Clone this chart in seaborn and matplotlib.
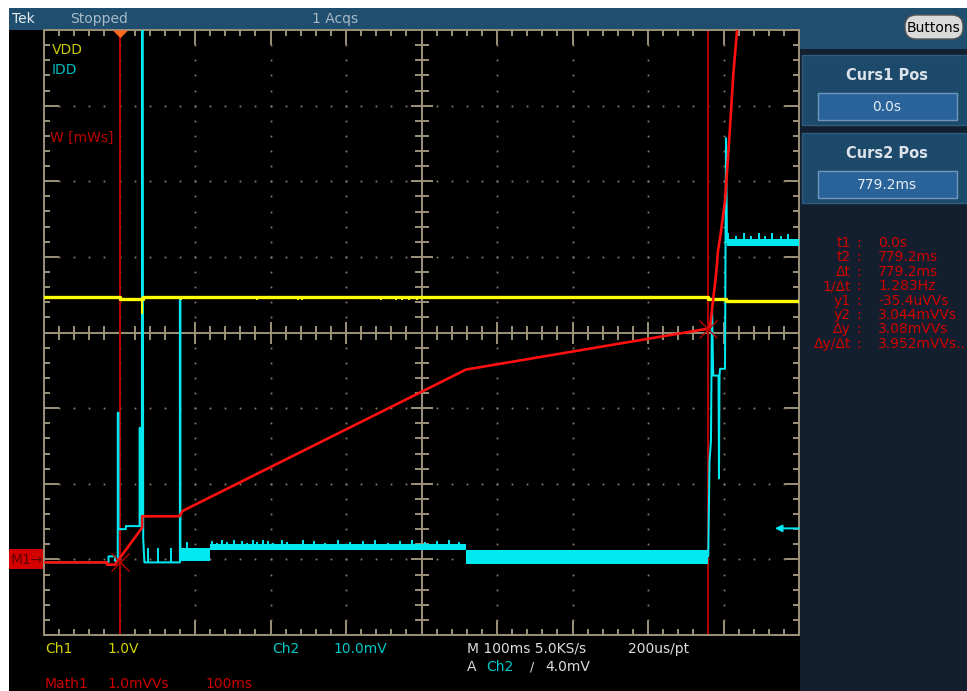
"""
Scope capture: VDD / IDD / energy (Math1) with two time cursors
"""

import numpy as np
import matplotlib
matplotlib.use("Agg")
import matplotlib.pyplot as plt
import matplotlib.transforms as mtransforms
from matplotlib.patches import Rectangle, FancyBboxPatch
from matplotlib.ticker import MultipleLocator
import seaborn as sns

# === Traces: time in ms (cursor 1 = 0), level in screen divisions ===
# Ch1 VDD (yellow)
vdd_t = [-100, 0, 0, 30.5, 30.5, 779.5, 779.5, 803.5, 803.5, 900]
vdd_y = [0.473, 0.473, 0.446, 0.446, 0.473, 0.473, 0.446, 0.446, 0.41, 0.41]
vdd_notch_t = [30.0, 80.8, 181.8, 237.0, 241.8, 347.0, 366.0, 374.8, 383.5, 394.0]
vdd_notch_y = [0.24, 0.43, 0.43, 0.43, 0.43, 0.43, 0.43, 0.43, 0.43, 0.43]

# Ch2 IDD (cyan) - start-up part
idd_t = [-100, -14.6, -14.6, -6.0, -6.0, -2.3, -2.3, -1.4, -1.4, 8.4, 8.4, 26.6,
         26.9, 27.2, 29.6, 30.0, 30.6, 31.4, 33.0, 80.0, 80.0, 80.7, 80.7]
idd_y = [-3.04, -3.04, -2.96, -2.96, -3.02, -3.02, -1.06, -1.06, -2.60, -2.60, -2.56, -2.56,
         -1.26, -2.56, -2.56, 4.3, 4.3, -2.72, -3.04, -3.04, 0.44, 0.44, -3.02]
# IDD around cursor 2
idd2_t = [779.8, 781.5, 783.4, 784.8, 786.1, 786.5, 793.4, 794.0, 794.7, 795.4, 802.0, 803.3, 804.6]
idd2_y = [-2.96, -1.70, -1.43, 0.35, -0.45, -0.57, -0.57, -1.93, -0.57, -0.48, -0.48, 2.57, 1.20]
# noisy stretches (envelopes)
band_t0 = [80.7, 119.9, 459.0, 804.6]
band_t1 = [119.9, 459.0, 779.8, 900.0]
band_lo = [-3.02, -2.88, -3.06, 1.15]
band_hi = [-2.85, -2.80, -2.87, 1.24]
# small glitches
spike_t = [37.7, 51.0, 68.0, 89.0,
           122, 128.7, 135.3, 142, 152, 161.8, 168.5, 177.2, 181.7, 190.5, 197, 202.9,
           214.8, 221.5, 243.4, 258, 272, 290, 305, 322, 338, 356, 371, 388, 404, 421, 436, 450,
           806, 815.9, 826.5, 835.8, 846.4, 855.6, 864.9, 875.5, 886]
spike_base = [-3.04, -3.04, -3.04, -2.85] + [-2.80] * 28 + [1.24] * 9
spike_top = [-2.85, -2.85, -2.85, -2.77,
             -2.76, -2.78, -2.75, -2.77, -2.74, -2.76, -2.78, -2.75, -2.77, -2.74, -2.76, -2.78,
             -2.75, -2.77, -2.74, -2.76, -2.78, -2.75, -2.77, -2.76, -2.74, -2.78, -2.76, -2.75,
             -2.77, -2.76, -2.74, -2.77,
             1.31, 1.28, 1.31, 1.28, 1.31, 1.28, 1.31, 1.28, 1.30]

# Math1 W [mWs] (red)
w_t = [-100, -16.5, -16.5, -6.0, 30.0, 30.0, 79.5, 83.5, 459.0, 779.0, 782.1, 786.1,
       788.7, 791.0, 792.7, 796.3, 802.0, 808.6, 813.0, 817.5, 822.0]
w_y = [-3.04, -3.04, -3.07, -3.07, -2.58, -2.43, -2.43, -2.36, -0.49, 0.05, 0.06, 0.42,
       0.64, 0.86, 1.08, 1.31, 1.74, 2.71, 3.42, 3.94, 4.5]

cursor_t = [0.0, 779.2]
cursor_y = [-3.04, 0.05]
trig_level = -2.59

# === Readouts ===
read_labels = ["t1", "t2", "Δt", "1/Δt", "y1", "y2", "Δy", "Δy/Δt"]
read_values = ["0.0s", "779.2ms", "779.2ms", "1.283Hz", "-35.4uVVs", "3.044mVVs", "3.08mVVs", "3.952mVVs.."]
curs_titles = ["Curs1 Pos", "Curs2 Pos"]
curs_values = ["0.0s", "779.2ms"]

# === Colors ===
GRAT = "#9d917a"
DOT = "#857b68"
YEL = "#ffff00"
CYN = "#00e8f0"
RED = "#ff1010"
CUR = "#b80000"
BAR = "#1f4e6e"
NAVY = "#131e2e"

sns.set_style("dark", {"axes.facecolor": "black", "figure.facecolor": "black"})
plt.rcParams["font.family"] = ["DejaVu Sans"]

W, H = 967, 691
fig = plt.figure(figsize=(W / 100, H / 100), dpi=100)
fig.patch.set_facecolor("black")
# pixel coords, origin top-left
PX = mtransforms.Affine2D().scale(0.01, -0.01).translate(0, H / 100) + fig.dpi_scale_trans


def rect(x, y, w, h, fc, ec="none", lw=0, z=-5):
    fig.add_artist(Rectangle((x, y), w, h, transform=PX, facecolor=fc, edgecolor=ec, lw=lw, zorder=z))


def ptext(x, y, s, color, size=10, **kw):
    fig.text(x, y, s, transform=PX, color=color, fontsize=size, va="center", **kw)


# === Frame / panels ===
rect(0, 0, W, 7.5, "white")
rect(0, 0, 9, H, "white")
rect(9, 7.5, W - 9, 22.5, BAR)
rect(800, 30, 167, H - 30, NAVY)
rect(800, 7.5, 167, 41, BAR)
ptext(12, 19, "Tek", "#e8eef2")
ptext(70, 19, "Stopped", "#a9b9c6")
ptext(312, 19, "1 Acqs", "#a9b9c6")
fig.add_artist(FancyBboxPatch((905, 15), 58, 24, boxstyle="round,pad=0,rounding_size=11",
                              transform=PX, facecolor="#dadada", edgecolor="#555555", lw=1, zorder=-4))
ptext(934, 27.5, "Buttons", "black", 10, ha="center")

for i, (ttl, val) in enumerate(zip(curs_titles, curs_values)):
    y0 = 55 + i * 78
    rect(802, y0, 165, 70, "#1d4a6b", ec="#2d5c80", lw=1, z=-4)
    ptext(887, y0 + 21, ttl, "#dde3ea", 10.5, ha="center", fontweight="bold")
    rect(818, y0 + 38, 139, 27, "#2a629a", ec="#6f97bd", lw=1, z=-3)
    ptext(887, y0 + 52, val, "#e6eef5", 10, ha="center")

for i, (lab, val) in enumerate(zip(read_labels, read_values)):
    yy = 243 + i * 14.4
    ptext(851, yy, lab, "#d00000", 10, ha="right")
    ptext(856, yy, ":", "#d00000", 10)
    ptext(878, yy, val, "#d00000", 10)

# bottom status text
ptext(45, 649, "Ch1", "#d2d200")
ptext(107, 649, "1.0V", "#d2d200")
ptext(272, 649, "Ch2", "#00c8c8")
ptext(333, 649, "10.0mV", "#00c8c8")
ptext(467, 649, "M 100ms 5.0KS/s", "#dcdcdc")
ptext(628, 649, "200us/pt", "#dcdcdc")
ptext(467, 667, "A", "#dcdcdc")
ptext(486, 667, "Ch2", "#00c8c8")
ptext(530, 667, "/", "#dcdcdc", 9)
ptext(545, 667, "4.0mV", "#dcdcdc")
ptext(45, 684, "Math1", "#cc0000")
ptext(107, 684, "1.0mVVs", "#cc0000")
ptext(205, 684, "100ms", "#cc0000")

# M1 reference marker
rect(9, 549, 35, 20, "#d40000", z=-4)
ptext(11, 560, "M1→", "#5c0000", 10)

# === Graticule ===
ax = fig.add_axes([44 / W, 1 - 635 / H, 755 / W, 605 / H])
ax.set_facecolor("black")
ax.set_xlim(-100, 900)
ax.set_ylim(-4, 4)
ax.xaxis.set_major_locator(MultipleLocator(100))
ax.xaxis.set_minor_locator(MultipleLocator(20))
ax.yaxis.set_major_locator(MultipleLocator(1))
ax.yaxis.set_minor_locator(MultipleLocator(0.2))
ax.tick_params(which="both", direction="in", colors=GRAT, width=1.4,
               top=True, right=True, bottom=True, left=True,
               labelbottom=False, labelleft=False)
ax.tick_params(which="major", length=10.5)
ax.tick_params(which="minor", length=4.5)
for sp in ax.spines.values():
    sp.set_color(GRAT)
    sp.set_linewidth(1.4)
ax.grid(False)
ax.set_xlabel("")
ax.set_ylabel("")

# dotted division lines
minor_t = np.arange(-80, 900, 20)
minor_d = np.round(np.arange(-3.8, 4.0, 0.2), 1)
for tt in [0, 100, 200, 300, 500, 600, 700, 800]:
    ax.plot(np.full(len(minor_d), tt), minor_d, ls="none", marker="s", ms=1.3, mew=0, color=DOT, zorder=1)
for dd in [-3, -2, -1, 1, 2, 3]:
    ax.plot(minor_t, np.full(len(minor_t), dd), ls="none", marker="s", ms=1.3, mew=0, color=DOT, zorder=1)

# center cross with ticks
ax.axhline(0, color=GRAT, lw=1.4, zorder=1)
ax.axvline(400, color=GRAT, lw=1.4, zorder=1)
t_min = [v for v in minor_t if v % 100 != 0]
t_maj = [v for v in minor_t if v % 100 == 0 and v != 400]
d_min = [v for v in minor_d if abs(v - round(v)) > 1e-6]
d_maj = [v for v in minor_d if abs(v - round(v)) < 1e-6 and v != 0]
ax.plot(t_min, np.zeros(len(t_min)), ls="none", marker="|", ms=10, mew=1.4, color=GRAT, zorder=1)
ax.plot(t_maj, np.zeros(len(t_maj)), ls="none", marker="|", ms=16, mew=1.4, color=GRAT, zorder=1)
ax.plot(np.full(len(d_min), 400), d_min, ls="none", marker="_", ms=10, mew=1.4, color=GRAT, zorder=1)
ax.plot(np.full(len(d_maj), 400), d_maj, ls="none", marker="_", ms=16, mew=1.4, color=GRAT, zorder=1)

# cursors
for ct in cursor_t:
    ax.axvline(ct, color=CUR, lw=1.4, zorder=2)

# === Traces ===
for t0, t1, lo, hi in zip(band_t0, band_t1, band_lo, band_hi):
    ax.fill_between([t0, t1], [lo, lo], [hi, hi], color=CYN, lw=0, zorder=3)
ax.vlines(spike_t, spike_base, spike_top, color=CYN, lw=1.4, zorder=3)
sns.lineplot(x=idd_t, y=idd_y, sort=False, estimator=None, color=CYN, lw=1.45, ax=ax, zorder=3)
sns.lineplot(x=idd2_t, y=idd2_y, sort=False, estimator=None, color=CYN, lw=1.45, ax=ax, zorder=3)

sns.lineplot(x=vdd_t, y=vdd_y, sort=False, estimator=None, color=YEL, lw=2.4, ax=ax, zorder=4)
ax.vlines(vdd_notch_t, vdd_notch_y, 0.473, color=YEL, lw=1.4, zorder=4)

sns.lineplot(x=w_t, y=w_y, sort=False, estimator=None, color=RED, lw=1.9, ax=ax, zorder=5)
ax.plot(cursor_t, cursor_y, ls="none", marker="x", ms=13, mew=1.0, color=CUR, zorder=6)

# trigger position (top) and trigger level (right)
ax.plot([0], [4], marker=[(-1, 0), (1, 0), (0, -1)], ms=11, color="#ff6a20", mew=0,
        clip_on=False, zorder=7)
ax.annotate("", xy=(0.968, trig_level), xytext=(1.0, trig_level),
            xycoords=("axes fraction", "data"), textcoords=("axes fraction", "data"),
            arrowprops=dict(arrowstyle="-|>", color=CYN, lw=1.4, mutation_scale=10,
                            shrinkA=0, shrinkB=0))

ax.set_xlim(-100, 900)
ax.set_ylim(-4, 4)
if ax.get_legend() is not None:
    ax.get_legend().remove()

# channel labels inside graticule
ptext(52, 50, "VDD", "#c8c800")
ptext(52, 70, "IDD", "#00bebe")
ptext(50, 138, "W [mWs]", "#be0000")

fig.savefig("out.png", dpi=100, facecolor="black")
